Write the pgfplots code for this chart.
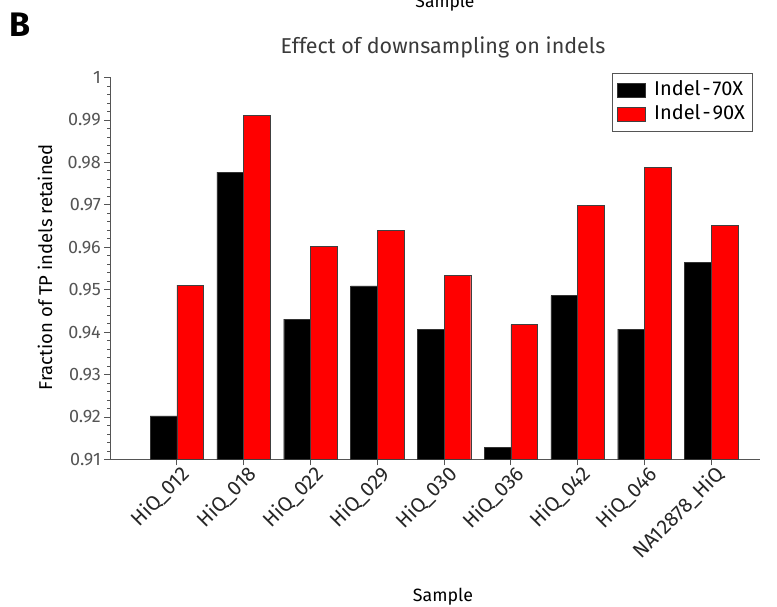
\documentclass[border=0pt]{standalone}
\usepackage{pgfplots}
\pgfplotsset{compat=1.18}
\usepackage{fontspec}
\setmainfont{Fira Sans}
\definecolor{axisgray}{HTML}{555555}
\definecolor{titlegray}{HTML}{3A3A3A}
\definecolor{barred}{HTML}{FF0000}

\begin{document}
\begin{tikzpicture}[x=1pt,y=1pt]
\useasboundingbox (0,0) rectangle (777,607);
% panel letter and the x-axis title of the panel above
\node[font=\bfseries\fontsize{34}{38}\selectfont, anchor=base west, inner sep=0] at (9,570) {B};
\node[font=\fontsize{17.5}{20}\selectfont, anchor=base, inner sep=0] at (445,599) {Sample};
% title and axis titles
\node[font=\fontsize{21.5}{24}\selectfont, text=titlegray] at (443,560) {Effect of downsampling on indels};
\node[font=\fontsize{18.5}{21}\selectfont, rotate=90] at (45,340) {Fraction of TP indels retained};
\node[font=\fontsize{17.8}{20}\selectfont] at (443,10) {Sample};
\begin{axis}[
  at={(110pt,147.5pt)}, anchor=south west,
  scale only axis, width=650pt, height=382pt,
  xmin=-1, xmax=8.73, ymin=0.91, ymax=1,
  axis x line=bottom, axis y line=left,
  axis line style={draw=axisgray, line width=0.8pt, -},
  ybar, bar width=26.7pt,
  xtick={0,...,8},
  xticklabels={HiQ\_012,HiQ\_018,HiQ\_022,HiQ\_029,HiQ\_030,HiQ\_036,HiQ\_042,HiQ\_046,NA12878\_HiQ},
  ytick={0.91,0.92,0.93,0.94,0.95,0.96,0.97,0.98,0.99,1},
  yticklabels={0.91,0.92,0.93,0.94,0.95,0.96,0.97,0.98,0.99,1},
  minor y tick num=4,
  tick align=outside,
  major tick length=6pt, minor tick length=3pt,
  tick style={draw=axisgray, line width=0.8pt},
  /pgf/number format/assume math mode=true,
  y tick label style={font=\fontsize{18}{20}\selectfont, text=axisgray, inner sep=3pt},
  x tick label style={font=\fontsize{20.5}{22}\selectfont, text=black!85, rotate=45,
    anchor=north east, inner sep=1pt, xshift=4pt},
  legend style={at={(0.988,1.012)}, anchor=north east, draw=axisgray,
    font=\fontsize{20}{22}\selectfont, inner xsep=5pt, inner ysep=6pt, row sep=2pt,
    nodes={inner sep=2pt, text height=14pt, text depth=4pt}},
  legend cell align=left,
  legend image code/.code={\draw[#1] (0pt,-7pt) rectangle (28pt,7pt); \path (35pt,0pt);},
]
\addplot[fill=black, draw=black!80, bar shift=-13.35pt] coordinates {
  (0,0.9203) (1,0.9777) (2,0.9431) (3,0.9509) (4,0.9407)
  (5,0.9129) (6,0.9486) (7,0.9407) (8,0.9565)};
\addplot[fill=barred, draw=black!75, bar shift=13.35pt] coordinates {
  (0,0.9511) (1,0.9910) (2,0.9603) (3,0.9640) (4,0.9534)
  (5,0.9418) (6,0.9698) (7,0.9788) (8,0.9652)};
\legend{Indel\kern2pt-\kern2pt70X,Indel\kern2pt-\kern2pt90X}
\end{axis}
\end{tikzpicture}
\end{document}
